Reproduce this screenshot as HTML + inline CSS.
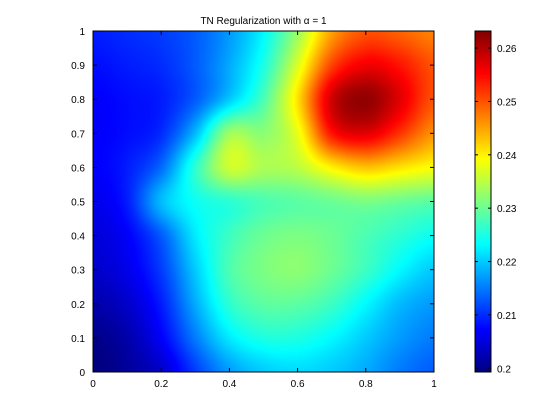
<!DOCTYPE html>
<html><head><meta charset="utf-8"><style>
html,body{margin:0;padding:0;background:#fff;width:560px;height:420px;overflow:hidden}
svg{position:absolute;left:0;top:0}
text{font-family:"Liberation Sans",sans-serif;font-size:10px;fill:#000}
</style></head><body>
<svg id="chart" width="560" height="420"></svg>
<script>
const xCoords=[0,0.1,0.2,0.3,0.4,0.5,0.6,0.7,0.8,0.9,1.0];
const yCoords=[1.0,0.9,0.8,0.7,0.6,0.5,0.4,0.3,0.2,0.1,0.0];
const zRows=[
[.209,.210,.211,.213,.217,.223,.233,.245,.250,.249,.247],
[.208,.209,.210,.213,.218,.225,.237,.251,.256,.254,.250],
[.207,.208,.209,.213,.220,.228,.241,.258,.262,.257,.250],
[.207,.208,.210,.219,.233,.232,.238,.254,.257,.252,.246],
[.207,.209,.214,.226,.236,.234,.235,.240,.243,.241,.239],
[.206,.209,.219,.224,.226,.228,.229,.230,.231,.230,.229],
[.205,.207,.213,.222,.227,.230,.231,.230,.228,.226,.224],
[.204,.206,.211,.220,.228,.231,.232,.230,.227,.223,.220],
[.202,.204,.209,.218,.226,.229,.229,.227,.223,.219,.217],
[.200,.202,.207,.215,.222,.225,.225,.223,.220,.217,.215],
[.199,.201,.204,.211,.217,.220,.221,.220,.218,.215,.213]];
const xTicks=[0,0.2,0.4,0.6,0.8,1];
const yTicks=[0,0.1,0.2,0.3,0.4,0.5,0.6,0.7,0.8,0.9,1];
const cTicks=[0.2,0.21,0.22,0.23,0.24,0.25,0.26];
const cMin=0.1993,cMax=0.2632;

const NS="http://www.w3.org/2000/svg";
const svg=document.getElementById('chart');
const PX0=93,PX1=434,PY0=31,PY1=372;
const CX0=475,CX1=491;
const sx=v=>PX0+v*(PX1-PX0);
const sy=v=>PY1-v*(PY1-PY0);
const sc=v=>PY1-(v-cMin)/(cMax-cMin)*(PY1-PY0);
function jet(t){t=Math.max(0,Math.min(1,t));
 const f=x=>Math.max(0,Math.min(1,1.5-Math.abs(4*t-x)));
 return [f(3),f(2),f(1)].map(v=>Math.round(v*255));}
function mk(tag,attrs){const e=document.createElementNS(NS,tag);for(const k in attrs)e.setAttribute(k,attrs[k]);svg.appendChild(e);return e;}
const N=xCoords.length-1;
function Z(j,i){j=Math.max(0,Math.min(N,j));i=Math.max(0,Math.min(N,i));return zRows[j][i];}
function cr(p0,p1,p2,p3,t){return p1+0.5*t*(p2-p0+t*(2*p0-5*p1+4*p2-p3+t*(3*(p1-p2)+p3-p0)));}
function interp(x,y){
 let fx=x*N,fy=(1-y)*N;
 let i=Math.min(N-1,Math.floor(fx)),j=Math.min(N-1,Math.floor(fy));
 let u=fx-i,w=fy-j;
 const r=[];
 for(let k=-1;k<=2;k++)r.push(cr(Z(j+k,i-1),Z(j+k,i),Z(j+k,i+1),Z(j+k,i+2),u));
 return cr(r[0],r[1],r[2],r[3],w);}
const W=PX1-PX0,H=PY1-PY0;
const cv=document.createElement('canvas');cv.width=W;cv.height=H;
const ctx=cv.getContext('2d');const img=ctx.createImageData(W,H);
for(let py=0;py<H;py++)for(let px=0;px<W;px++){
 const v=interp((px+0.5)/W,1-(py+0.5)/H);
 const c=jet((v-cMin)/(cMax-cMin));const k=(py*W+px)*4;
 img.data[k]=c[0];img.data[k+1]=c[1];img.data[k+2]=c[2];img.data[k+3]=255;}
ctx.putImageData(img,0,0);
const im=mk('image',{x:PX0,y:PY0,width:W,height:H,href:cv.toDataURL()});


const cc=document.createElement('canvas');cc.width=1;cc.height=H;
const c2=cc.getContext('2d');
for(let py=0;py<H;py++){const c=jet(1-(py+0.5)/H);c2.fillStyle=`rgb(${c})`;c2.fillRect(0,py,1,1);}
const cb=mk('image',{x:CX0,y:PY0,width:CX1-CX0,height:H,href:cc.toDataURL(),preserveAspectRatio:'none'});


const fr=mk('rect',{x:PX0,y:PY0,width:W,height:H,fill:'none',stroke:'#000','stroke-width':1});


const cf=mk('rect',{x:CX0,y:PY0,width:CX1-CX0,height:H,fill:'none',stroke:'#000','stroke-width':1});


xTicks.forEach(v=>{const x=sx(v);
 mk('line',{x1:x,x2:x,y1:PY1,y2:PY1-4,stroke:'#000'});mk('line',{x1:x,x2:x,y1:PY0,y2:PY0+4,stroke:'#000'});
 const t=mk('text',{x:x,y:PY1+15,'text-anchor':'middle'});t.textContent=String(v);
 
 });
yTicks.forEach(v=>{const y=sy(v);
 mk('line',{x1:PX0,x2:PX0+4,y1:y,y2:y,stroke:'#000'});mk('line',{x1:PX1,x2:PX1-4,y1:y,y2:y,stroke:'#000'});
 const t=mk('text',{x:PX0-8,y:y+4,'text-anchor':'end'});t.textContent=String(v);
 
 });
cTicks.forEach(v=>{const y=sc(v);
 mk('line',{x1:CX0,x2:CX0+3,y1:y,y2:y,stroke:'#000'});mk('line',{x1:CX1,x2:CX1-3,y1:y,y2:y,stroke:'#000'});
 const t=mk('text',{x:CX1+6,y:y+4});t.textContent=String(v);
 
 });
const tt=mk('text',{x:(PX0+PX1)/2,y:24,'text-anchor':'middle'});
tt.textContent='TN Regularization with α = 1';


</script>
</body></html>
